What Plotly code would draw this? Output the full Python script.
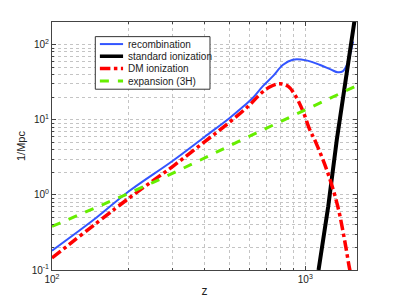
import plotly.graph_objects as go

# recombination (blue)
z_rec = [100, 150, 200, 300, 400, 500, 560, 620, 680, 745, 817, 893, 1009, 1138, 1265, 1343, 1405, 1471, 1518, 1545]
v_rec = [0.181, 0.50, 1.10, 2.85, 5.9, 10.4, 14.3, 19.5, 28, 38, 54, 63, 61.7, 54, 46.4, 42.8, 44, 57, 86, 110]

# standard ionization (black)
z_std = [1128, 1232, 1332, 1563, 1600]
v_std = [0.1, 0.705, 5.46, 205, 260]

# DM ionization (red)
z_dm = [100, 200, 300, 400, 500, 600, 661, 720, 788, 854, 908, 979, 1040, 1100, 1227, 1343, 1428, 1494, 1510]
v_dm = [0.1445, 0.89, 2.4, 5.08, 9.15, 15.5, 21.7, 27, 30.2, 28, 21.7, 13.0, 7.43, 5.0, 1.96, 0.705, 0.254, 0.106, 0.09]

# expansion 3H (green)
z_exp = [100, 251, 603, 1600]
v_exp = [0.381, 1.47, 6.04, 28.5]

series_names = ["recombination", "standard ionization", "DM ionization", "expansion (3H)"]

xtick_vals = [100, 1000]
xtick_text = ["10<sup>2</sup>", "10<sup>3</sup>"]
ytick_vals = [0.1, 1, 10, 100]
ytick_text = ["10<sup>-1</sup>", "10<sup>0</sup>", "10<sup>1</sup>", "10<sup>2</sup>"]

x_minor = [m * d for d in (100, 1000) for m in range(2, 10)]
y_minor = [m * d for d in (0.1, 1, 10, 100) for m in range(2, 10)]

styles = [
    dict(color="#3355ff", width=2),
    dict(color="black", width=4),
    dict(color="#ff0000", width=3.5, dash="dashdot"),
    dict(color="#66ee00", width=3, dash="dash"),
]

fig = go.Figure()
data = [(z_rec, v_rec), (z_std, v_std), (z_dm, v_dm), (z_exp, v_exp)]
for (zz, vv), name, st in zip(data, series_names, styles):
    line = dict(st)
    if name != "standard ionization":
        line["shape"] = "spline"
    fig.add_trace(go.Scatter(x=zz, y=vv, mode="lines", name=name, line=line,
                             showlegend=False))

# custom legend box (MATLAB style)
fig.add_shape(type="rect", xref="paper", yref="paper", x0=0.142, x1=0.518, y0=0.729, y1=0.941,
              line=dict(color="#333", width=1), fillcolor="white", layer="above")
rows_y = [0.911, 0.862, 0.812, 0.762]
for yy, name, st in zip(rows_y, series_names, styles):
    fig.add_shape(type="line", xref="paper", yref="paper", x0=0.157, x1=0.233, y0=yy, y1=yy,
                  line=dict(color=st["color"], width=min(st["width"], 3.5),
                            dash=st.get("dash", "solid")), layer="above")
    fig.add_annotation(xref="paper", yref="paper", x=0.241, y=yy, text=name, showarrow=False,
                       xanchor="left", yanchor="middle",
                       font=dict(size=10, color="#222"))

grid = dict(showgrid=True, gridcolor="#c4c4c4", griddash="dot", gridwidth=1)
fig.update_layout(
    width=395, height=305,
    margin=dict(l=52, r=38, t=22, b=35),
    paper_bgcolor="white", plot_bgcolor="white",
    font=dict(family="Liberation Sans, Arial, sans-serif", size=10, color="#222"),
    showlegend=False,
    xaxis=dict(type="log", range=[2, 3.2041], tickvals=xtick_vals, ticktext=xtick_text,
               automargin=False,
               showline=True, linecolor="#444", linewidth=1, mirror="allticks",
               ticks="inside", ticklen=4, tickcolor="#444",
               minor=dict(tickmode="array", tickvals=x_minor, ticks="inside", ticklen=2,
                          tickcolor="#444", **grid),
               title=dict(text="z", font=dict(size=12), standoff=2),
               zeroline=False, **grid),
    yaxis=dict(type="log", range=[-1, 2.301], tickvals=ytick_vals, ticktext=ytick_text,
               automargin=False,
               showline=True, linecolor="#444", linewidth=1, mirror="allticks",
               ticks="inside", ticklen=4, tickcolor="#444",
               minor=dict(tickmode="array", tickvals=y_minor, ticks="inside", ticklen=2,
                          tickcolor="#444", **grid),
               title=dict(text="1/Mpc", font=dict(size=11), standoff=3),
               zeroline=False, **grid),
)
fig.write_html("out.html", config={"displayModeBar": False},
               post_script="document.body.style.margin='0';document.body.style.padding='0';")
